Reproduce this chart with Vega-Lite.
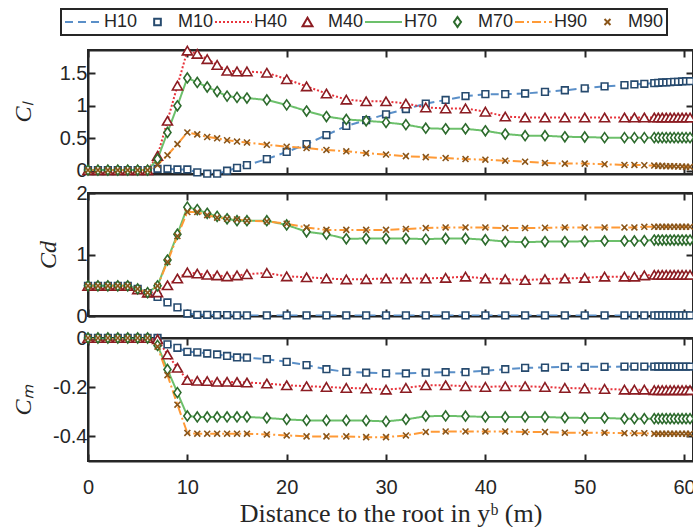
{
"$schema":"https://vega.github.io/schema/vega-lite/v6.json",
"padding":{"left":10,"top":8,"right":0,"bottom":0},
"autosize":{"type":"pad"},
"background":"white",
"datasets":{
"hk":[{"k":"s10","series":"H10"},{"k":"s40","series":"H40"},{"k":"s70","series":"H70"},{"k":"s90","series":"H90"}],
"mk":[{"k":"s10","series":"M10"},{"k":"s40","series":"M40"},{"k":"s70","series":"M70"},{"k":"s90","series":"M90"}],
"d":[
{"p":"l","x":0,"s10":0.01,"s40":0.01,"s70":0.01,"s90":0.01},
{"p":"l","x":1,"s10":0.01,"s40":0.01,"s70":0.01,"s90":0.01},
{"p":"l","x":2,"s10":0.01,"s40":0.01,"s70":0.01,"s90":0.01},
{"p":"l","x":3,"s10":0.01,"s40":0.01,"s70":0.01,"s90":0.01},
{"p":"l","x":4,"s10":0.01,"s40":0.01,"s70":0.01,"s90":0.01},
{"p":"l","x":5,"s10":0.01,"s40":0.01,"s70":0.01,"s90":0.01},
{"p":"l","x":6,"s10":0.01,"s40":0.01,"s70":0.01,"s90":0.01},
{"p":"l","x":7,"s10":0.03,"s40":0.23,"s70":0.18,"s90":0.09},
{"p":"l","x":8,"s10":0.03,"s40":0.77,"s70":0.59,"s90":0.24},
{"p":"l","x":9,"s10":0.02,"s40":1.31,"s70":1.0,"s90":0.41},
{"p":"l","x":10,"s10":0.02,"s40":1.85,"s70":1.43,"s90":0.59},
{"p":"l","x":11,"s10":-0.025,"s40":1.8,"s70":1.36,"s90":0.56},
{"p":"l","x":12,"s10":-0.045,"s40":1.72,"s70":1.29,"s90":0.52},
{"p":"l","x":13,"s10":-0.045,"s40":1.63,"s70":1.22,"s90":0.5},
{"p":"l","x":14,"s10":0.0,"s40":1.54,"s70":1.15,"s90":0.47},
{"p":"l","x":15,"s10":0.046,"s40":1.53,"s70":1.13,"s90":0.45},
{"p":"l","x":16,"s10":0.087,"s40":1.53,"s70":1.12,"s90":0.435},
{"p":"l","x":18,"s10":0.18,"s40":1.51,"s70":1.09,"s90":0.4},
{"p":"l","x":20,"s10":0.29,"s40":1.41,"s70":1.015,"s90":0.37},
{"p":"l","x":22,"s10":0.41,"s40":1.3,"s70":0.92,"s90":0.35},
{"p":"l","x":24,"s10":0.55,"s40":1.19,"s70":0.835,"s90":0.32},
{"p":"l","x":26,"s10":0.69,"s40":1.095,"s70":0.79,"s90":0.3},
{"p":"l","x":28,"s10":0.78,"s40":1.07,"s70":0.77,"s90":0.27},
{"p":"l","x":30,"s10":0.87,"s40":1.07,"s70":0.745,"s90":0.25},
{"p":"l","x":32,"s10":0.95,"s40":1.035,"s70":0.71,"s90":0.225},
{"p":"l","x":34,"s10":1.035,"s40":0.975,"s70":0.655,"s90":0.21},
{"p":"l","x":36,"s10":1.09,"s40":0.96,"s70":0.646,"s90":0.195},
{"p":"l","x":38,"s10":1.15,"s40":0.96,"s70":0.646,"s90":0.18},
{"p":"l","x":40,"s10":1.18,"s40":0.91,"s70":0.615,"s90":0.17},
{"p":"l","x":42,"s10":1.18,"s40":0.835,"s70":0.565,"s90":0.155},
{"p":"l","x":44,"s10":1.19,"s40":0.82,"s70":0.54,"s90":0.14},
{"p":"l","x":46,"s10":1.215,"s40":0.82,"s70":0.54,"s90":0.12},
{"p":"l","x":48,"s10":1.24,"s40":0.82,"s70":0.523,"s90":0.11},
{"p":"l","x":50,"s10":1.27,"s40":0.82,"s70":0.52,"s90":0.11},
{"p":"l","x":52,"s10":1.3,"s40":0.82,"s70":0.51,"s90":0.1},
{"p":"l","x":54,"s10":1.32,"s40":0.82,"s70":0.51,"s90":0.09},
{"p":"l","x":55,"s10":1.33,"s40":0.82,"s70":0.51,"s90":0.09},
{"p":"l","x":56,"s10":1.34,"s40":0.82,"s70":0.51,"s90":0.085},
{"p":"l","x":57,"s10":1.35,"s40":0.82,"s70":0.51,"s90":0.08},
{"p":"l","x":57.4,"s10":1.355,"s40":0.82,"s70":0.51,"s90":0.075},
{"p":"l","x":57.8,"s10":1.36,"s40":0.82,"s70":0.51,"s90":0.075},
{"p":"l","x":58.2,"s10":1.36,"s40":0.82,"s70":0.51,"s90":0.07},
{"p":"l","x":58.6,"s10":1.365,"s40":0.82,"s70":0.51,"s90":0.07},
{"p":"l","x":59,"s10":1.37,"s40":0.82,"s70":0.51,"s90":0.07},
{"p":"l","x":59.4,"s10":1.37,"s40":0.82,"s70":0.51,"s90":0.065},
{"p":"l","x":59.8,"s10":1.375,"s40":0.82,"s70":0.51,"s90":0.065},
{"p":"l","x":60.2,"s10":1.38,"s40":0.82,"s70":0.51,"s90":0.06},
{"p":"l","x":60.6,"s10":1.38,"s40":0.82,"s70":0.51,"s90":0.06},
{"p":"d","x":0,"s10":0.49,"s40":0.49,"s70":0.49,"s90":0.49},
{"p":"d","x":1,"s10":0.49,"s40":0.49,"s70":0.49,"s90":0.49},
{"p":"d","x":2,"s10":0.49,"s40":0.49,"s70":0.49,"s90":0.49},
{"p":"d","x":3,"s10":0.49,"s40":0.49,"s70":0.49,"s90":0.49},
{"p":"d","x":4,"s10":0.49,"s40":0.49,"s70":0.49,"s90":0.49},
{"p":"d","x":5,"s10":0.44,"s40":0.43,"s70":0.44,"s90":0.44},
{"p":"d","x":6,"s10":0.37,"s40":0.38,"s70":0.38,"s90":0.38},
{"p":"d","x":7,"s10":0.31,"s40":0.385,"s70":0.49,"s90":0.49},
{"p":"d","x":8,"s10":0.22,"s40":0.5,"s70":0.91,"s90":0.88},
{"p":"d","x":9,"s10":0.14,"s40":0.61,"s70":1.33,"s90":1.3},
{"p":"d","x":10,"s10":0.04,"s40":0.71,"s70":1.77,"s90":1.69},
{"p":"d","x":11,"s10":0.02,"s40":0.69,"s70":1.73,"s90":1.69},
{"p":"d","x":12,"s10":0.02,"s40":0.67,"s70":1.67,"s90":1.64},
{"p":"d","x":13,"s10":0.015,"s40":0.66,"s70":1.62,"s90":1.6},
{"p":"d","x":14,"s10":0.015,"s40":0.645,"s70":1.58,"s90":1.58},
{"p":"d","x":15,"s10":0.01,"s40":0.66,"s70":1.55,"s90":1.57},
{"p":"d","x":16,"s10":0.01,"s40":0.68,"s70":1.55,"s90":1.55},
{"p":"d","x":18,"s10":0.01,"s40":0.7,"s70":1.55,"s90":1.54},
{"p":"d","x":20,"s10":0.01,"s40":0.645,"s70":1.48,"s90":1.5},
{"p":"d","x":22,"s10":0.01,"s40":0.63,"s70":1.37,"s90":1.44},
{"p":"d","x":24,"s10":0.01,"s40":0.61,"s70":1.33,"s90":1.4},
{"p":"d","x":26,"s10":0.01,"s40":0.595,"s70":1.255,"s90":1.4},
{"p":"d","x":28,"s10":0.01,"s40":0.6,"s70":1.26,"s90":1.4},
{"p":"d","x":30,"s10":0.01,"s40":0.61,"s70":1.26,"s90":1.4},
{"p":"d","x":32,"s10":0.01,"s40":0.61,"s70":1.26,"s90":1.415},
{"p":"d","x":34,"s10":0.01,"s40":0.61,"s70":1.25,"s90":1.43},
{"p":"d","x":36,"s10":0.01,"s40":0.62,"s70":1.26,"s90":1.44},
{"p":"d","x":38,"s10":0.01,"s40":0.64,"s70":1.26,"s90":1.44},
{"p":"d","x":40,"s10":0.01,"s40":0.61,"s70":1.24,"s90":1.44},
{"p":"d","x":42,"s10":0.01,"s40":0.6,"s70":1.21,"s90":1.43},
{"p":"d","x":44,"s10":0.01,"s40":0.585,"s70":1.2,"s90":1.43},
{"p":"d","x":46,"s10":0.01,"s40":0.6,"s70":1.21,"s90":1.435},
{"p":"d","x":48,"s10":0.01,"s40":0.61,"s70":1.21,"s90":1.44},
{"p":"d","x":50,"s10":0.01,"s40":0.62,"s70":1.215,"s90":1.44},
{"p":"d","x":52,"s10":0.01,"s40":0.64,"s70":1.22,"s90":1.44},
{"p":"d","x":54,"s10":0.01,"s40":0.64,"s70":1.22,"s90":1.44},
{"p":"d","x":55,"s10":0.01,"s40":0.64,"s70":1.22,"s90":1.44},
{"p":"d","x":56,"s10":0.01,"s40":0.66,"s70":1.225,"s90":1.45},
{"p":"d","x":57,"s10":0.01,"s40":0.67,"s70":1.235,"s90":1.45},
{"p":"d","x":57.4,"s10":0.01,"s40":0.67,"s70":1.235,"s90":1.45},
{"p":"d","x":57.8,"s10":0.01,"s40":0.67,"s70":1.235,"s90":1.45},
{"p":"d","x":58.2,"s10":0.01,"s40":0.67,"s70":1.235,"s90":1.45},
{"p":"d","x":58.6,"s10":0.01,"s40":0.67,"s70":1.235,"s90":1.45},
{"p":"d","x":59,"s10":0.01,"s40":0.67,"s70":1.235,"s90":1.45},
{"p":"d","x":59.4,"s10":0.01,"s40":0.67,"s70":1.235,"s90":1.45},
{"p":"d","x":59.8,"s10":0.01,"s40":0.67,"s70":1.235,"s90":1.45},
{"p":"d","x":60.2,"s10":0.01,"s40":0.67,"s70":1.235,"s90":1.45},
{"p":"d","x":60.6,"s10":0.01,"s40":0.67,"s70":1.235,"s90":1.45},
{"p":"m","x":0,"s10":0,"s40":0,"s70":0,"s90":0},
{"p":"m","x":1,"s10":0,"s40":0,"s70":0,"s90":0},
{"p":"m","x":2,"s10":0,"s40":0,"s70":0,"s90":0},
{"p":"m","x":3,"s10":0,"s40":0,"s70":0,"s90":0},
{"p":"m","x":4,"s10":0,"s40":0,"s70":0,"s90":0},
{"p":"m","x":5,"s10":0,"s40":0,"s70":0,"s90":0},
{"p":"m","x":6,"s10":0,"s40":0,"s70":0,"s90":0},
{"p":"m","x":7,"s10":0,"s40":-0.005,"s70":-0.03,"s90":-0.035},
{"p":"m","x":8,"s10":-0.026,"s40":-0.067,"s70":-0.128,"s90":-0.151},
{"p":"m","x":9,"s10":-0.04,"s40":-0.121,"s70":-0.222,"s90":-0.271},
{"p":"m","x":10,"s10":-0.056,"s40":-0.171,"s70":-0.317,"s90":-0.386},
{"p":"m","x":11,"s10":-0.058,"s40":-0.174,"s70":-0.321,"s90":-0.389},
{"p":"m","x":12,"s10":-0.063,"s40":-0.175,"s70":-0.321,"s90":-0.389},
{"p":"m","x":13,"s10":-0.067,"s40":-0.178,"s70":-0.321,"s90":-0.389},
{"p":"m","x":14,"s10":-0.073,"s40":-0.178,"s70":-0.321,"s90":-0.389},
{"p":"m","x":15,"s10":-0.079,"s40":-0.179,"s70":-0.321,"s90":-0.389},
{"p":"m","x":16,"s10":-0.08,"s40":-0.181,"s70":-0.321,"s90":-0.389},
{"p":"m","x":18,"s10":-0.086,"s40":-0.185,"s70":-0.325,"s90":-0.392},
{"p":"m","x":20,"s10":-0.097,"s40":-0.192,"s70":-0.331,"s90":-0.396},
{"p":"m","x":22,"s10":-0.11,"s40":-0.196,"s70":-0.335,"s90":-0.4},
{"p":"m","x":24,"s10":-0.127,"s40":-0.199,"s70":-0.335,"s90":-0.4},
{"p":"m","x":26,"s10":-0.138,"s40":-0.203,"s70":-0.335,"s90":-0.4},
{"p":"m","x":28,"s10":-0.141,"s40":-0.205,"s70":-0.336,"s90":-0.403},
{"p":"m","x":30,"s10":-0.144,"s40":-0.21,"s70":-0.339,"s90":-0.403},
{"p":"m","x":32,"s10":-0.144,"s40":-0.203,"s70":-0.331,"s90":-0.396},
{"p":"m","x":34,"s10":-0.141,"s40":-0.192,"s70":-0.318,"s90":-0.382},
{"p":"m","x":36,"s10":-0.139,"s40":-0.192,"s70":-0.317,"s90":-0.38},
{"p":"m","x":38,"s10":-0.139,"s40":-0.196,"s70":-0.318,"s90":-0.38},
{"p":"m","x":40,"s10":-0.133,"s40":-0.199,"s70":-0.321,"s90":-0.38},
{"p":"m","x":42,"s10":-0.127,"s40":-0.196,"s70":-0.321,"s90":-0.38},
{"p":"m","x":44,"s10":-0.121,"s40":-0.196,"s70":-0.321,"s90":-0.382},
{"p":"m","x":46,"s10":-0.12,"s40":-0.199,"s70":-0.321,"s90":-0.382},
{"p":"m","x":48,"s10":-0.117,"s40":-0.203,"s70":-0.324,"s90":-0.385},
{"p":"m","x":50,"s10":-0.117,"s40":-0.205,"s70":-0.325,"s90":-0.385},
{"p":"m","x":52,"s10":-0.117,"s40":-0.207,"s70":-0.325,"s90":-0.385},
{"p":"m","x":54,"s10":-0.116,"s40":-0.21,"s70":-0.328,"s90":-0.387},
{"p":"m","x":55,"s10":-0.116,"s40":-0.21,"s70":-0.328,"s90":-0.387},
{"p":"m","x":56,"s10":-0.116,"s40":-0.21,"s70":-0.328,"s90":-0.387},
{"p":"m","x":57,"s10":-0.116,"s40":-0.212,"s70":-0.328,"s90":-0.389},
{"p":"m","x":57.4,"s10":-0.116,"s40":-0.212,"s70":-0.328,"s90":-0.389},
{"p":"m","x":57.8,"s10":-0.116,"s40":-0.212,"s70":-0.328,"s90":-0.389},
{"p":"m","x":58.2,"s10":-0.116,"s40":-0.212,"s70":-0.328,"s90":-0.389},
{"p":"m","x":58.6,"s10":-0.116,"s40":-0.212,"s70":-0.328,"s90":-0.389},
{"p":"m","x":59,"s10":-0.116,"s40":-0.212,"s70":-0.328,"s90":-0.389},
{"p":"m","x":59.4,"s10":-0.116,"s40":-0.212,"s70":-0.328,"s90":-0.389},
{"p":"m","x":59.8,"s10":-0.116,"s40":-0.212,"s70":-0.328,"s90":-0.389},
{"p":"m","x":60.2,"s10":-0.116,"s40":-0.212,"s70":-0.328,"s90":-0.389},
{"p":"m","x":60.6,"s10":-0.116,"s40":-0.212,"s70":-0.328,"s90":-0.389}
]},
"data":{"name":"d"},
"spacing":0,
"vconcat":[
{"width":605,"height":124,
 "transform":[{"filter":"datum.p==='l'"}],
 "layer":[
  {"transform":[{"fold":["s10","s40","s70","s90"],"as":["k","v"]},{"lookup":"k","from":{"data":{"name":"hk"},"key":"k","fields":["series"]}}],
   "mark":{"type":"line","strokeWidth":2,"clip":true},
   "encoding":{
    "x":{"field":"x","type":"quantitative","scale":{"domain":[0,60.9],"nice":false,"zero":false},"axis":{"orient":"bottom","values":[0,10,20,30,40,50,60],"labels":false,"title":null}},
    "y":{"field":"v","type":"quantitative","scale":{"domain":[-0.05,1.86],"nice":false,"zero":false},"axis":{"orient":"left","values":[0,0.5,1,1.5],"labelExpr":"replace(format(datum.value,'~g'),'\u2212','-')","title":"Cₗ","titlePadding":24}},
    "color":{"field":"series","type":"nominal","scale":{"domain":["H10","M10","H40","M40","H70","M70","H90","M90"],"range":["#5a8fc8","#264a6e","#e8343c","#8c1c22","#6cc06b","#2d6b2d","#ff9a36","#8a5519"]},"legend":{"title":null}},
    "strokeDash":{"field":"series","type":"nominal","scale":{"domain":["H10","M10","H40","M40","H70","M70","H90","M90"],"range":[[8,5],[1,0],[2,2],[1,0],[1,0],[1,0],[9,3,2,3],[1,0]]},"legend":{"title":null}}
   }},
  {"transform":[{"fold":["s10","s40","s70","s90"],"as":["k","v"]},{"lookup":"k","from":{"data":{"name":"mk"},"key":"k","fields":["series"]}}],
   "mark":{"type":"point","filled":false,"fill":"white","strokeWidth":1.6,"opacity":1,"size":1369,"clip":false},
   "encoding":{
    "x":{"field":"x","type":"quantitative","scale":{"domain":[0,60.9],"nice":false,"zero":false},"axis":{"orient":"top","values":[0,10,20,30,40,50,60],"labels":false,"title":null}},
    "y":{"field":"v","type":"quantitative","scale":{"domain":[-0.05,1.86],"nice":false,"zero":false},"axis":{"orient":"right","values":[0,0.5,1,1.5],"labels":false,"title":null}},
    "color":{"field":"series","type":"nominal","scale":{"domain":["H10","M10","H40","M40","H70","M70","H90","M90"],"range":["#5a8fc8","#264a6e","#e8343c","#8c1c22","#6cc06b","#2d6b2d","#ff9a36","#8a5519"]},"legend":{"title":null}},
    "shape":{"field":"series","type":"nominal","scale":{"domain":["H10","M10","H40","M40","H70","M70","H90","M90"],"range":["stroke","M-0.18,-0.18L0.18,-0.18L0.18,0.18L-0.18,0.18Z","stroke","M0,-0.23L0.27,0.23L-0.27,0.23Z","stroke","M0,-0.27L0.19,0L0,0.27L-0.19,0Z","stroke","M-0.16,-0.16L0.16,0.16M-0.16,0.16L0.16,-0.16"]},"legend":{"title":null}}
   }}
 ],
 "resolve":{"axis":{"x":"independent","y":"independent"}}
},
{"width":605,"height":123,
 "transform":[{"filter":"datum.p==='d'"}],
 "layer":[
  {"transform":[{"fold":["s10","s40","s70","s90"],"as":["k","v"]},{"lookup":"k","from":{"data":{"name":"hk"},"key":"k","fields":["series"]}}],
   "mark":{"type":"line","strokeWidth":2,"clip":true},
   "encoding":{
    "x":{"field":"x","type":"quantitative","scale":{"domain":[0,60.9],"nice":false,"zero":false},"axis":{"orient":"bottom","values":[0,10,20,30,40,50,60],"labels":false,"title":null}},
    "y":{"field":"v","type":"quantitative","scale":{"domain":[0,2],"nice":false,"zero":false},"axis":{"orient":"left","values":[0,1,2],"labelExpr":"replace(format(datum.value,'~g'),'\u2212','-')","title":"Cd","titlePadding":15}},
    "color":{"field":"series","type":"nominal","scale":{"domain":["H10","M10","H40","M40","H70","M70","H90","M90"],"range":["#5a8fc8","#264a6e","#e8343c","#8c1c22","#6cc06b","#2d6b2d","#ff9a36","#8a5519"]},"legend":{"title":null}},
    "strokeDash":{"field":"series","type":"nominal","scale":{"domain":["H10","M10","H40","M40","H70","M70","H90","M90"],"range":[[8,5],[1,0],[2,2],[1,0],[1,0],[1,0],[9,3,2,3],[1,0]]},"legend":{"title":null}}
   }},
  {"transform":[{"fold":["s10","s40","s70","s90"],"as":["k","v"]},{"lookup":"k","from":{"data":{"name":"mk"},"key":"k","fields":["series"]}}],
   "mark":{"type":"point","filled":false,"fill":"white","strokeWidth":1.6,"opacity":1,"size":1369,"clip":false},
   "encoding":{
    "x":{"field":"x","type":"quantitative","scale":{"domain":[0,60.9],"nice":false,"zero":false},"axis":{"orient":"top","values":[0,10,20,30,40,50,60],"labels":false,"title":null}},
    "y":{"field":"v","type":"quantitative","scale":{"domain":[0,2],"nice":false,"zero":false},"axis":{"orient":"right","values":[0,1,2],"labels":false,"title":null}},
    "color":{"field":"series","type":"nominal","scale":{"domain":["H10","M10","H40","M40","H70","M70","H90","M90"],"range":["#5a8fc8","#264a6e","#e8343c","#8c1c22","#6cc06b","#2d6b2d","#ff9a36","#8a5519"]},"legend":{"title":null}},
    "shape":{"field":"series","type":"nominal","scale":{"domain":["H10","M10","H40","M40","H70","M70","H90","M90"],"range":["stroke","M-0.18,-0.18L0.18,-0.18L0.18,0.18L-0.18,0.18Z","stroke","M0,-0.23L0.27,0.23L-0.27,0.23Z","stroke","M0,-0.27L0.19,0L0,0.27L-0.19,0Z","stroke","M-0.16,-0.16L0.16,0.16M-0.16,0.16L0.16,-0.16"]},"legend":{"title":null}}
   }}
 ],
 "resolve":{"axis":{"x":"independent","y":"independent"}}
},
{"width":605,"height":123,
 "transform":[{"filter":"datum.p==='m'"}],
 "layer":[
  {"transform":[{"fold":["s10","s40","s70","s90"],"as":["k","v"]},{"lookup":"k","from":{"data":{"name":"hk"},"key":"k","fields":["series"]}}],
   "mark":{"type":"line","strokeWidth":2,"clip":true},
   "encoding":{
    "x":{"field":"x","type":"quantitative","scale":{"domain":[0,60.9],"nice":false,"zero":false},"axis":{"orient":"bottom","values":[0,10,20,30,40,50,60],"labels":true,"labelPadding":23,"labelFlush":false,"title":"Distance to the root in yᵇ (m)","titleFont":"Liberation Serif","titleFontSize":26,"titleFontStyle":"normal","titlePadding":3}},
    "y":{"field":"v","type":"quantitative","scale":{"domain":[-0.5,0],"nice":false,"zero":false},"axis":{"orient":"left","values":[0,-0.2,-0.4],"labelExpr":"replace(format(datum.value,'~g'),'\u2212','-')","title":"Cₘ","titlePadding":17}},
    "color":{"field":"series","type":"nominal","scale":{"domain":["H10","M10","H40","M40","H70","M70","H90","M90"],"range":["#5a8fc8","#264a6e","#e8343c","#8c1c22","#6cc06b","#2d6b2d","#ff9a36","#8a5519"]},"legend":{"title":null}},
    "strokeDash":{"field":"series","type":"nominal","scale":{"domain":["H10","M10","H40","M40","H70","M70","H90","M90"],"range":[[8,5],[1,0],[2,2],[1,0],[1,0],[1,0],[9,3,2,3],[1,0]]},"legend":{"title":null}}
   }},
  {"transform":[{"fold":["s10","s40","s70","s90"],"as":["k","v"]},{"lookup":"k","from":{"data":{"name":"mk"},"key":"k","fields":["series"]}}],
   "mark":{"type":"point","filled":false,"fill":"white","strokeWidth":1.6,"opacity":1,"size":1369,"clip":false},
   "encoding":{
    "x":{"field":"x","type":"quantitative","scale":{"domain":[0,60.9],"nice":false,"zero":false},"axis":{"orient":"top","values":[0,10,20,30,40,50,60],"labels":false,"title":null}},
    "y":{"field":"v","type":"quantitative","scale":{"domain":[-0.5,0],"nice":false,"zero":false},"axis":{"orient":"right","values":[0,-0.2,-0.4],"labels":false,"title":null}},
    "color":{"field":"series","type":"nominal","scale":{"domain":["H10","M10","H40","M40","H70","M70","H90","M90"],"range":["#5a8fc8","#264a6e","#e8343c","#8c1c22","#6cc06b","#2d6b2d","#ff9a36","#8a5519"]},"legend":{"title":null}},
    "shape":{"field":"series","type":"nominal","scale":{"domain":["H10","M10","H40","M40","H70","M70","H90","M90"],"range":["stroke","M-0.18,-0.18L0.18,-0.18L0.18,0.18L-0.18,0.18Z","stroke","M0,-0.23L0.27,0.23L-0.27,0.23Z","stroke","M0,-0.27L0.19,0L0,0.27L-0.19,0Z","stroke","M-0.16,-0.16L0.16,0.16M-0.16,0.16L0.16,-0.16"]},"legend":{"title":null}}
   }}
 ],
 "resolve":{"axis":{"x":"independent","y":"independent"}}
}
],
"config":{
 "font":"Liberation Sans",
 "view":{"stroke":"#262626","strokeWidth":2},
 "axis":{"domainColor":"#262626","domainWidth":2,"tickColor":"#262626","tickWidth":2,"tickSize":-7,"labelFont":"Liberation Sans","labelFontSize":20,"labelColor":"#262626","labelPadding":8,"grid":false,"titleFont":"Liberation Serif","titleFontSize":24,"titleFontStyle":"italic","titleFontWeight":"normal","titleColor":"#262626","titlePadding":12},
 "legend":{"orient":"none","legendX":-27,"legendY":-41,"direction":"horizontal","columns":8,"strokeColor":"#262626","strokeWidth":2,"fillColor":"white","padding":3,"labelFont":"Liberation Sans","labelFontSize":18,"labelColor":"#262626","labelOffset":1,"columnPadding":0,"symbolSize":1369,"symbolStrokeWidth":2,"clipHeight":20}
}
}
